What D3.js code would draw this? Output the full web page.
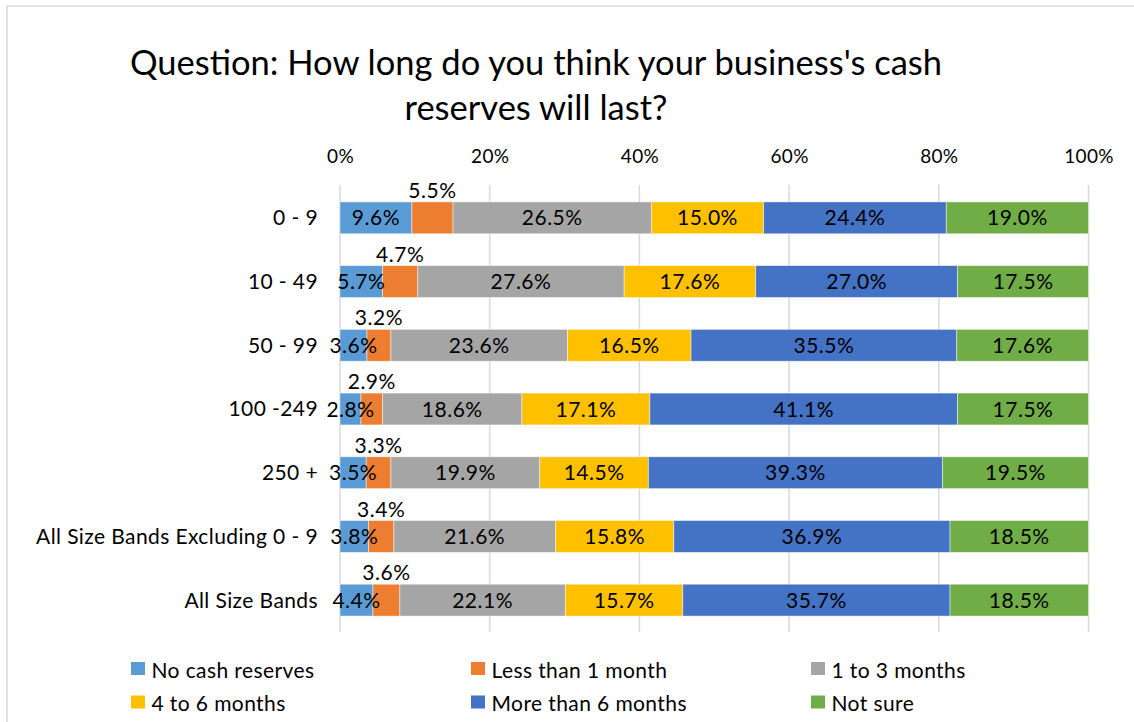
<!DOCTYPE html>
<html>
<head>
<meta charset="utf-8">
<script src="https://cdn.jsdelivr.net/npm/d3@7"></script>
<style>
  body { margin: 0; background: #fff; }
  text { font-family: Lato, "Open Sans", sans-serif; fill: #000; }
</style>
</head>
<body>
<svg id="drawing_region"></svg>
<script>
// size bands (rows, top to bottom)
var categories = ["0 - 9", "10 - 49", "50 - 99", "100 -249", "250 +", "All Size Bands Excluding 0 - 9", "All Size Bands"];
var series = ["No cash reserves", "Less than 1 month", "1 to 3 months", "4 to 6 months", "More than 6 months", "Not sure"];
var colors = ["#5B9BD5", "#ED7D31", "#A5A5A5", "#FFC000", "#4472C4", "#70AD47"];

// percentage per series, one value per size band
var noCash     = [9.6, 5.7, 3.6, 2.8, 3.5, 3.8, 4.4];
var lessThan1  = [5.5, 4.7, 3.2, 2.9, 3.3, 3.4, 3.6];
var oneToThree = [26.5, 27.6, 23.6, 18.6, 19.9, 21.6, 22.1];
var fourToSix  = [15.0, 17.6, 16.5, 17.1, 14.5, 15.8, 15.7];
var moreThan6  = [24.4, 27.0, 35.5, 41.1, 39.3, 36.9, 35.7];
var notSure    = [19.0, 17.5, 17.6, 17.5, 19.5, 18.5, 18.5];

var tickValues = [0, 0.2, 0.4, 0.6, 0.8, 1.0];

var values = [noCash, lessThan1, oneToThree, fourToSix, moreThan6, notSure];
var table = categories.map((c, i) => {
    var row = { label: c };
    series.forEach((s, j) => { row[s] = values[j][i]; });
    return row;
});

var config = {
    width: 1134,
    height: 722,
    left: 340,
    right: 1088.5,
    top: 186,
    bottom: 632
};

var svg = d3.select('#drawing_region')
    .attr('width', config.width)
    .attr('height', config.height);

// chart frame (runs off right and bottom edges)
svg.append('rect')
    .attr('x', 7).attr('y', 6)
    .attr('width', 1300).attr('height', 900)
    .attr('fill', 'none')
    .attr('stroke', '#d9d9d9')
    .attr('stroke-width', 1.5);

// title
var title = svg.append('text')
    .attr('text-anchor', 'middle')
    .style('font-size', '34.5px');
title.append('tspan').attr('x', 536).attr('y', 75).text("Question: How long do you think your business's cash");
title.append('tspan').attr('x', 536).attr('y', 120).text("reserves will last?");

var xscale = d3.scaleLinear()
    .domain([0, 1])
    .range([config.left, config.right]);

var yscale = d3.scaleBand()
    .domain(categories)
    .range([config.top, config.bottom])
    .paddingInner(0.5)
    .paddingOuter(0.25);

// gridlines
svg.append('g')
    .selectAll('line')
    .data(tickValues)
    .join('line')
    .attr('x1', d => xscale(d)).attr('x2', d => xscale(d))
    .attr('y1', config.top - 1).attr('y2', config.bottom)
    .attr('stroke', '#d9d9d9')
    .attr('stroke-width', 1.5);

// top axis
var xaxis = d3.axisTop(xscale)
    .tickValues(tickValues)
    .tickFormat(d3.format('.0%'))
    .tickSize(0)
    .tickPadding(0);

var xaxis_group = svg.append('g')
    .attr('transform', 'translate(0, 163)')
    .call(xaxis);
xaxis_group.select('.domain').remove();
xaxis_group.selectAll('text')
    .attr('dy', 0)
    .style('font-family', 'Lato, sans-serif')
    .style('font-size', '19px')
    .style('letter-spacing', '0.3px')
    .attr('fill', '#000');

// left axis (category labels)
var yaxis = d3.axisLeft(yscale)
    .tickSize(0)
    .tickPadding(22);

var yaxis_group = svg.append('g')
    .attr('transform', `translate(${config.left}, 0)`)
    .call(yaxis);
yaxis_group.select('.domain').remove();
yaxis_group.selectAll('text')
    .attr('dy', '0.35em')
    .style('font-family', 'Lato, sans-serif')
    .style('font-size', '21px')
    .style('letter-spacing', '0.4px')
    .attr('fill', '#000');

// stacked bars, normalised to 100%
var stack = d3.stack()
    .keys(series)
    .offset(d3.stackOffsetExpand);
var stacked = stack(table);

var layers = svg.append('g')
    .selectAll('g')
    .data(stacked)
    .join('g')
    .attr('fill', (d, i) => colors[i]);

layers.selectAll('rect')
    .data(d => d)
    .join('rect')
    .attr('x', d => xscale(d[0]))
    .attr('y', d => yscale(d.data.label))
    .attr('width', d => xscale(d[1]) - xscale(d[0]))
    .attr('height', yscale.bandwidth())
    .attr('stroke', '#ffffff')
    .attr('stroke-opacity', 0.6)
    .attr('stroke-width', 0.75);

// data labels
var labels = svg.append('g')
    .selectAll('g')
    .data(stacked)
    .join('g');

labels.selectAll('text')
    .data(d => d.map(p => ({ p: p, key: d.key })))
    .join('text')
    .attr('text-anchor', 'middle')
    .attr('x', d => xscale((d.p[0] + d.p[1]) / 2))
    .attr('y', d => d.key === "Less than 1 month"
        ? yscale(d.p.data.label) - 4
        : yscale(d.p.data.label) + yscale.bandwidth() / 2 + 7.5)
    .style('font-size', '21px')
    .style('letter-spacing', '0.5px')
    .text(d => d.p.data[d.key].toFixed(1) + '%');

// legend
var legend = svg.append('g')
    .selectAll('g')
    .data(series)
    .join('g')
    .attr('transform', (d, i) => `translate(${131 + (i % 3) * 340}, ${662 + Math.floor(i / 3) * 33.5})`);

legend.append('rect')
    .attr('width', 14)
    .attr('height', 13)
    .attr('fill', (d, i) => colors[i]);

legend.append('text')
    .attr('x', 20.5)
    .attr('y', 15.5)
    .style('font-size', '21px')
    .style('letter-spacing', '0.4px')
    .text(d => d);
</script>
</body>
</html>
